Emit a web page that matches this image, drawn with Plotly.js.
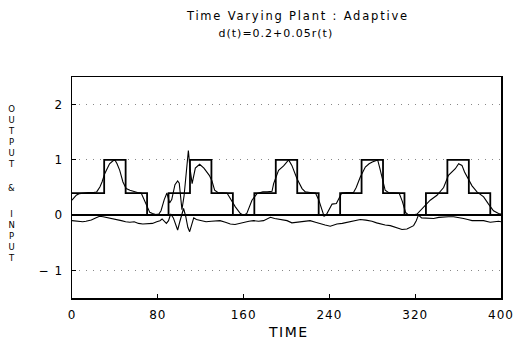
<!DOCTYPE html>
<html>
<head>
<meta charset="utf-8">
<script src="https://cdn.plot.ly/plotly-3.0.1.min.js"></script>
<style>
html,body{margin:0;padding:0;background:#fff;}
#chart{width:515px;height:340px;}
#chart .xtick text, #chart .ytick text { letter-spacing: 1px; }
</style>
</head>
<body>
<div id="chart"></div>
<script>
// Reference (staircase) signal: step times and levels
var refT = [0, 30, 50, 70, 90, 110, 130, 150, 170, 190, 210, 230, 250, 270, 290, 310, 330, 350, 370, 390, 400];
var refV = [0.4, 1, 0.4, 0, 0.4, 1, 0.4, 0, 0.4, 1, 0.4, 0, 0.4, 1, 0.4, 0, 0.4, 1, 0.4, 0, 0];

// Plant output
var outT = [0, 2, 4, 7, 10, 15, 20, 23, 26, 28, 30.5, 33, 35, 38, 40, 42, 44.5, 47.5, 50.5, 54, 57, 61, 64.5, 67, 69.5, 72.5, 75, 78, 81,
  83, 86, 88.5, 91, 93, 96, 98.5, 100, 102.5, 104.5, 106.5, 108.5, 110, 112, 115, 119, 123, 126, 128, 130.5, 133, 136, 140, 144.5,
  147.6, 152.3, 157, 160, 163, 167.8, 172.5, 178, 182, 186.5, 188, 192.6, 197.3, 200.5, 202, 205, 209.8, 214.5, 217.6, 222, 227,
  230, 233, 235, 237, 240, 242.5, 246.5, 249, 251.5, 256, 262.5, 265, 268.8, 273.5, 277, 280, 283, 285, 287, 289, 292, 295, 300, 305,
  308, 311, 314, 318, 321.7, 327.8, 334, 340.3, 346.5, 351, 355, 357.4, 360.5, 363.6, 366, 368.3, 373, 377.6, 383.8, 388.4, 393, 397.7, 400];
var outV = [0.27, 0.32, 0.36, 0.39, 0.40, 0.41, 0.41, 0.42, 0.51, 0.6, 0.75, 0.86, 0.93, 0.98, 1.0, 0.93, 0.81, 0.6, 0.48, 0.45, 0.43, 0.41, 0.40, 0.28, 0.16, 0.05, 0.03, 0.01, 0.02,
  0.08, 0.28, 0.40, 0.22, 0.28, 0.55, 0.62, 0.58, 0.1, 0.35, 0.8, 1.17, 0.85, 0.57, 0.85, 0.92, 0.85, 0.78, 0.72, 0.62, 0.45, 0.41, 0.40, 0.40,
  0.3, 0.15, 0.03, 0.0, 0.03, 0.27, 0.39, 0.42, 0.42, 0.43, 0.57, 0.81, 0.89, 0.97, 1.0, 0.9, 0.66, 0.48, 0.42, 0.41, 0.40,
  0.28, 0.1, -0.02, 0.0, 0.12, 0.2, 0.21, 0.32, 0.40, 0.41, 0.41, 0.5, 0.69, 0.87, 0.93, 0.96, 0.99, 1.0, 0.85, 0.68, 0.45, 0.41, 0.40, 0.40,
  0.25, 0.05, 0.0, 0.0, 0.02, 0.15, 0.27, 0.36, 0.5, 0.72, 0.8, 0.84, 0.93, 0.9, 0.78, 0.69, 0.53, 0.42, 0.33, 0.2, 0.08, 0.03, 0.02];

// Plant input
var inT = [0, 5, 10, 13, 18, 22, 25.7, 29, 32, 36, 41, 46, 50, 54, 58, 62, 66, 70, 75, 79, 82, 84, 86, 88, 90, 92, 94.5, 96.5, 98.5,
  100.5, 102.5, 104, 106, 108, 109.7, 111.5, 113.5, 116, 120, 125, 130, 134, 138, 143, 147.6, 152, 156, 160, 165, 169.3, 174, 178.6,
  182, 185, 189, 192.6, 196, 200.5, 205, 209, 213, 218, 222, 227, 231.5, 236, 240.8, 244, 247, 252, 256.4, 262, 268.8, 274, 279.7,
  284, 287.5, 292, 296.8, 302, 307.7, 312.3, 315.4, 318.5, 321, 323, 326, 332, 337.2, 342, 346.5, 351, 355.8, 360, 365.1, 369, 373,
  378, 383.8, 388, 390, 394, 397.7, 400];
var inV = [-0.1, -0.11, -0.12, -0.11, -0.09, -0.05, -0.02, -0.03, -0.04, -0.06, -0.08, -0.1, -0.12, -0.13, -0.12, -0.15, -0.16, -0.15, -0.15, -0.12, -0.1, -0.07, -0.12, -0.15, -0.1, 0.02, -0.05, -0.18, -0.27,
  -0.12, 0.02, 0.12, -0.02, -0.22, -0.3, -0.18, -0.05, -0.08, -0.1, -0.12, -0.11, -0.1, -0.1, -0.13, -0.16, -0.17, -0.15, -0.13, -0.11, -0.1, -0.11, -0.1,
  -0.06, -0.04, -0.06, -0.07, -0.08, -0.1, -0.14, -0.13, -0.11, -0.11, -0.1, -0.13, -0.16, -0.18, -0.2, -0.18, -0.16, -0.15, -0.13, -0.1, -0.08, -0.09, -0.11,
  -0.14, -0.16, -0.18, -0.19, -0.23, -0.26, -0.25, -0.22, -0.19, -0.1, 0.0, -0.05, -0.06, -0.06, -0.04, -0.03, -0.03, -0.03, -0.04, -0.06, -0.08, -0.1,
  -0.1, -0.1, -0.12, -0.13, -0.12, -0.11, -0.12];

var xTicks = [0, 80, 160, 240, 320, 400];
var yTicks = [-1, 0, 1, 2];
var yTickText = ['\u2212 1', '0', '1', '2'];
var titleLine1 = 'Time Varying Plant : Adaptive';
var titleLine2 = 'd(t)=0.2+0.05r(t)';
var xTitle = 'TIME';
var yTitleParts = ['O<br>U<br>T<br>P<br>U<br>T', '&', 'I<br>N<br>P<br>U<br>T'];

var W = 515, H = 340, ML = 72, MR = 14, MT = 77, MB = 42;
var PW = W - ML - MR, PH = H - MT - MB;
function px2x(px) { return (px - ML) / PW; }
function py2y(py) { return (H - MB - py) / PH; }

var FONT = 'DejaVu Sans, Liberation Sans, sans-serif';

var traces = [
  {x: refT, y: refV, type: 'scatter', mode: 'lines', line: {shape: 'hv', color: '#000', width: 1.8}, hoverinfo: 'skip'},
  {x: outT, y: outV, type: 'scatter', mode: 'lines', line: {color: '#000', width: 1.1}, hoverinfo: 'skip'},
  {x: inT, y: inV, type: 'scatter', mode: 'lines', line: {color: '#000', width: 1.1}, hoverinfo: 'skip'}
];

var annotations = [
  {text: titleLine1, xref: 'paper', yref: 'paper', x: px2x(297.5), y: py2y(15.5), xanchor: 'center', yanchor: 'middle', showarrow: false, font: {family: FONT, size: 11.5, color: '#000'}},
  {text: titleLine2, xref: 'paper', yref: 'paper', x: px2x(276), y: py2y(33), xanchor: 'center', yanchor: 'middle', showarrow: false, font: {family: FONT, size: 11, color: '#000'}},
  {text: xTitle, xref: 'paper', yref: 'paper', x: px2x(288), y: py2y(332), xanchor: 'center', yanchor: 'middle', showarrow: false, font: {family: FONT, size: 14, color: '#000'}},
  {text: yTitleParts[0], xref: 'paper', yref: 'paper', x: px2x(11.5), y: py2y(136), xanchor: 'center', yanchor: 'middle', showarrow: false, font: {family: FONT, size: 8.5, color: '#000'}},
  {text: yTitleParts[1], xref: 'paper', yref: 'paper', x: px2x(11.5), y: py2y(187.5), xanchor: 'center', yanchor: 'middle', showarrow: false, font: {family: FONT, size: 8.5, color: '#000'}},
  {text: yTitleParts[2], xref: 'paper', yref: 'paper', x: px2x(11.5), y: py2y(235.5), xanchor: 'center', yanchor: 'middle', showarrow: false, font: {family: FONT, size: 8.5, color: '#000'}}
];
var spacing = ['1.8px', '1px', '1.5px', '0px', '0px', '0px'];

var layout = {
  width: W, height: H,
  margin: {l: ML, r: MR, t: MT, b: MB, pad: 0},
  paper_bgcolor: '#fff', plot_bgcolor: '#fff',
  showlegend: false,
  font: {family: FONT, size: 12, color: '#000'},
  xaxis: {
    range: [0, 400], tickvals: xTicks, ticktext: xTicks.map(String),
    ticks: 'inside', ticklen: 4, tickcolor: '#000', tickwidth: 1,
    showline: true, linecolor: '#000', linewidth: 1.5, mirror: true,
    showgrid: false, zeroline: false,
    tickfont: {family: FONT, size: 12, color: '#000'}, ticklabelstandoff: 5
  },
  yaxis: {
    range: [-1.5, 2.5], tickvals: yTicks, ticktext: yTickText,
    ticks: 'inside', ticklen: 4, tickcolor: '#000', tickwidth: 1,
    showline: true, linecolor: '#000', linewidth: 1.5, mirror: true,
    showgrid: true, gridcolor: '#888', gridwidth: 1, griddash: '1px,6px',
    zeroline: true, zerolinecolor: '#000', zerolinewidth: 2,
    tickfont: {family: FONT, size: 12, color: '#000'}, ticklabelstandoff: 5
  },
  annotations: annotations
};

Plotly.newPlot('chart', traces, layout, {staticPlot: true, displayModeBar: false}).then(function (gd) {
  var texts = gd.querySelectorAll('.annotation .annotation-text');
  for (var i = 0; i < texts.length && i < spacing.length; i++) {
    texts[i].style.letterSpacing = spacing[i];
  }
});
</script>
</body>
</html>
